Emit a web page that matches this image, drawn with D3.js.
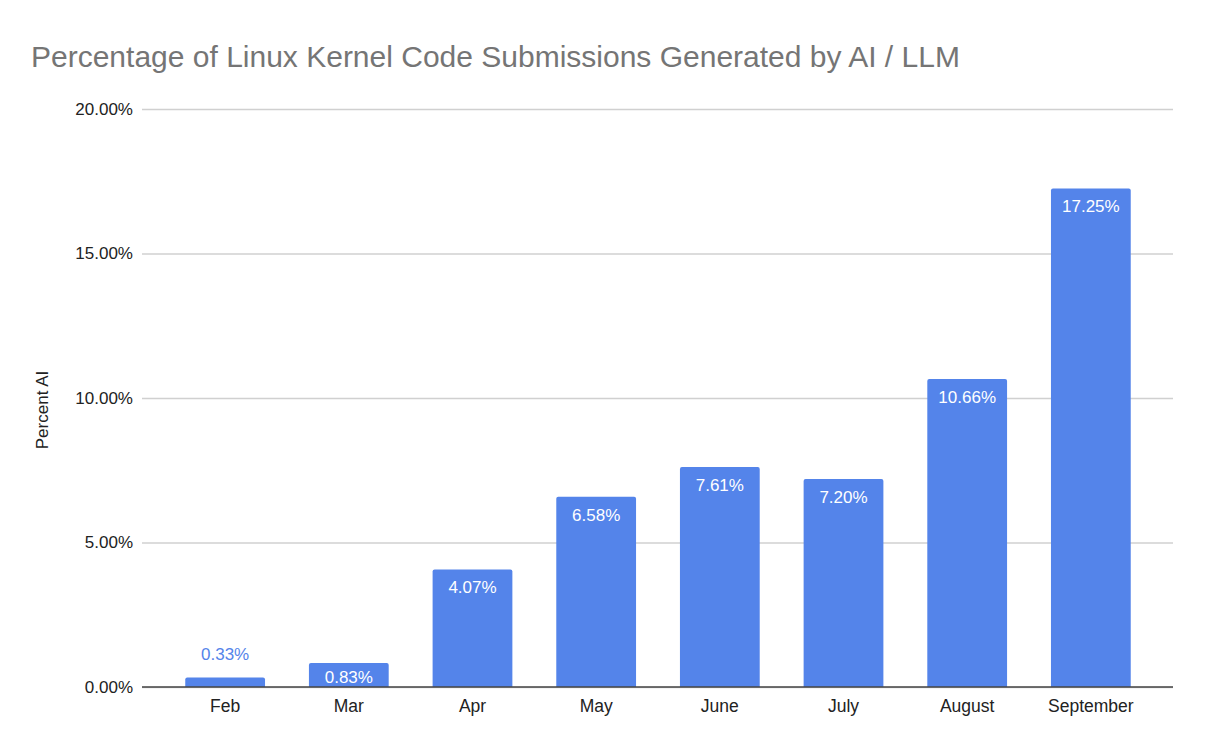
<!DOCTYPE html>
<html>
<head>
<meta charset="utf-8">
<script src="https://cdn.jsdelivr.net/npm/d3@7"></script>
<style>
  body { margin: 0; background: #fff; }
  text { font-family: 'Liberation Sans', Arial, sans-serif; }
</style>
</head>
<body>
<svg width="1208" height="751"></svg>
<script>
// chart data
var months = ['Feb', 'Mar', 'Apr', 'May', 'June', 'July', 'August', 'September'];
var percentAI = [0.33, 0.83, 4.07, 6.58, 7.61, 7.20, 10.66, 17.25];
var yTicks = [0, 5, 10, 15, 20];

var svg = d3.select('svg');
var barColor = '#5484ea';

var x = d3.scaleBand()
    .domain(months)
    .range([163, 1153])
    .paddingInner(0.355)
    .paddingOuter(0.18);

var y = d3.scaleLinear()
    .domain([0, 20])
    .range([687, 109]);

// title
svg.append('text')
    .attr('x', 31)
    .attr('y', 67)
    .style('font-size', '30px')
    .attr('fill', '#757575')
    .text('Percentage of Linux Kernel Code Submissions Generated by AI / LLM');

// gridlines + y labels
var yAxis = d3.axisLeft(y)
    .tickValues(yTicks)
    .tickSize(-1031)
    .tickPadding(9)
    .tickFormat(d => d.toFixed(2) + '%');

var yG = svg.append('g')
    .attr('transform', 'translate(142,0)')
    .call(yAxis);
yG.select('.domain').remove();
yG.selectAll('.tick line').attr('stroke', '#d0d0d0').attr('stroke-width', 1.5);
yG.selectAll('.tick text')
    .attr('fill', '#222')
    .style('font-size', '17px')
    .style('font-family', "'Liberation Sans', Arial, sans-serif");

// y axis title
svg.append('text')
    .attr('transform', 'translate(48,410) rotate(-90)')
    .attr('text-anchor', 'middle')
    .style('font-size', '17px')
    .attr('fill', '#222')
    .text('Percent AI');

var data = months.map((m, i) => ({month: m, value: percentAI[i]}));

// bars with slightly rounded tops
svg.selectAll('.bar')
    .data(data)
    .enter()
    .append('path')
    .attr('class', 'bar')
    .attr('fill', barColor)
    .attr('d', d => {
        var x0 = x(d.month), w = x.bandwidth(), y0 = y(d.value), b = y(0), r = 2;
        return 'M' + x0 + ',' + b + 'V' + (y0 + r) + 'Q' + x0 + ',' + y0 + ' ' + (x0 + r) + ',' + y0 +
            'H' + (x0 + w - r) + 'Q' + (x0 + w) + ',' + y0 + ' ' + (x0 + w) + ',' + (y0 + r) + 'V' + b + 'Z';
    });

// value labels: inside the bar when it fits, above it otherwise
var fits = d => y(0) - y(d.value) > 20;
svg.selectAll('.val')
    .data(data)
    .enter()
    .append('text')
    .attr('class', 'val')
    .attr('x', d => x(d.month) + x.bandwidth() / 2)
    .attr('y', d => (fits(d) ? Math.min(y(d.value) + 24, y(0) - 4) : y(d.value) - 17))
    .attr('text-anchor', 'middle')
    .style('font-size', '17px')
    .attr('fill', d => (fits(d) ? '#fff' : barColor))
    .text(d => d.value.toFixed(2) + '%');

// x axis
var xAxis = d3.axisBottom(x).tickSize(0).tickPadding(13);
var xG = svg.append('g')
    .attr('transform', 'translate(0,687)')
    .call(xAxis);
xG.select('.domain').remove();
xG.selectAll('.tick text')
    .attr('fill', '#222')
    .style('font-size', '17.5px')
    .style('font-family', "'Liberation Sans', Arial, sans-serif");

svg.append('line')
    .attr('x1', 142)
    .attr('x2', 1173)
    .attr('y1', y(0))
    .attr('y2', y(0))
    .attr('stroke', '#444')
    .attr('stroke-width', 1.5);
</script>
</body>
</html>
